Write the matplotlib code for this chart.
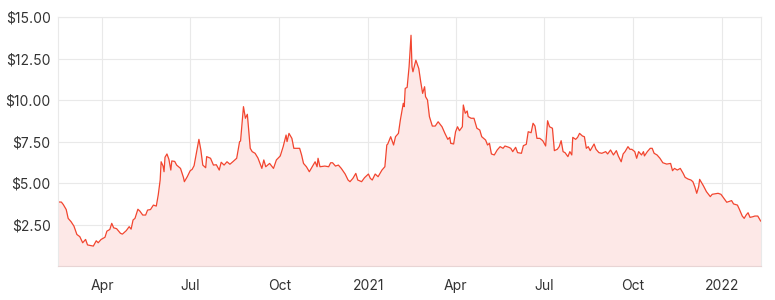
import matplotlib
matplotlib.use("Agg")
import matplotlib.pyplot as plt
import pandas as pd

# share price
dates = [
    "2020-02-15", "2020-02-19", "2020-02-21", "2020-02-24", "2020-02-26", "2020-02-29",
    "2020-03-03", "2020-03-06", "2020-03-09", "2020-03-12", "2020-03-15", "2020-03-17",
    "2020-03-23", "2020-03-26", "2020-03-28", "2020-03-31", "2020-04-04", "2020-04-06",
    "2020-04-09", "2020-04-11", "2020-04-13", "2020-04-16", "2020-04-20", "2020-04-22",
    "2020-04-26", "2020-04-29", "2020-05-01", "2020-05-03", "2020-05-05", "2020-05-08",
    "2020-05-10", "2020-05-13", "2020-05-16", "2020-05-18", "2020-05-21", "2020-05-24",
    "2020-05-27", "2020-05-29", "2020-05-31", "2020-06-01", "2020-06-03", "2020-06-04",
    "2020-06-05", "2020-06-07", "2020-06-09", "2020-06-11", "2020-06-12", "2020-06-15",
    "2020-06-17", "2020-06-21", "2020-06-24", "2020-06-25", "2020-06-28", "2020-07-01",
    "2020-07-03", "2020-07-05", "2020-07-08", "2020-07-10", "2020-07-12", "2020-07-14",
    "2020-07-17", "2020-07-18", "2020-07-22", "2020-07-25", "2020-07-28", "2020-07-31",
    "2020-08-02", "2020-08-05", "2020-08-08", "2020-08-11", "2020-08-14", "2020-08-18",
    "2020-08-21", "2020-08-22", "2020-08-25", "2020-08-27", "2020-08-29", "2020-09-01",
    "2020-09-03", "2020-09-06", "2020-09-09", "2020-09-13", "2020-09-15", "2020-09-17",
    "2020-09-21", "2020-09-25", "2020-09-28", "2020-10-02", "2020-10-05", "2020-10-08",
    "2020-10-09", "2020-10-11", "2020-10-14", "2020-10-16", "2020-10-19", "2020-10-22",
    "2020-10-24", "2020-10-26", "2020-10-29", "2020-11-01", "2020-11-03", "2020-11-07",
    "2020-11-09", "2020-11-10", "2020-11-12", "2020-11-17", "2020-11-21", "2020-11-23",
    "2020-11-25", "2020-11-28", "2020-12-01", "2020-12-04", "2020-12-08", "2020-12-11",
    "2020-12-13", "2020-12-16", "2020-12-19", "2020-12-21", "2020-12-25", "2020-12-28",
    "2021-01-01", "2021-01-03", "2021-01-05", "2021-01-08", "2021-01-11", "2021-01-15",
    "2021-01-18", "2021-01-20", "2021-01-21", "2021-01-24", "2021-01-27", "2021-01-29",
    "2021-02-01", "2021-02-03", "2021-02-06", "2021-02-07", "2021-02-08", "2021-02-10",
    "2021-02-12", "2021-02-14", "2021-02-15", "2021-02-16", "2021-02-19", "2021-02-22",
    "2021-02-24", "2021-02-26", "2021-02-28", "2021-03-01", "2021-03-03", "2021-03-05",
    "2021-03-08", "2021-03-11", "2021-03-14", "2021-03-18", "2021-03-21", "2021-03-24",
    "2021-03-26", "2021-03-27", "2021-03-30", "2021-04-01", "2021-04-03", "2021-04-05",
    "2021-04-08", "2021-04-09", "2021-04-11", "2021-04-13", "2021-04-14", "2021-04-17",
    "2021-04-20", "2021-04-23", "2021-04-26", "2021-04-28", "2021-05-02", "2021-05-04",
    "2021-05-06", "2021-05-08", "2021-05-11", "2021-05-14", "2021-05-17", "2021-05-20",
    "2021-05-22", "2021-05-26", "2021-05-28", "2021-05-30", "2021-06-02", "2021-06-04",
    "2021-06-08", "2021-06-10", "2021-06-13", "2021-06-15", "2021-06-18", "2021-06-20",
    "2021-06-22", "2021-06-24", "2021-06-27", "2021-06-30", "2021-07-03", "2021-07-05",
    "2021-07-07", "2021-07-10", "2021-07-12", "2021-07-15", "2021-07-17", "2021-07-19",
    "2021-07-21", "2021-07-23", "2021-07-26", "2021-07-28", "2021-07-30", "2021-07-31",
    "2021-08-03", "2021-08-05", "2021-08-07", "2021-08-10", "2021-08-12", "2021-08-14",
    "2021-08-16", "2021-08-18", "2021-08-22", "2021-08-24", "2021-08-27", "2021-08-30",
    "2021-09-03", "2021-09-05", "2021-09-08", "2021-09-11", "2021-09-14", "2021-09-16",
    "2021-09-19", "2021-09-21", "2021-09-23", "2021-09-26", "2021-09-28", "2021-09-30",
    "2021-10-03", "2021-10-05", "2021-10-07", "2021-10-10", "2021-10-12", "2021-10-13",
    "2021-10-16", "2021-10-19", "2021-10-21", "2021-10-23", "2021-10-26", "2021-10-29",
    "2021-11-01", "2021-11-05", "2021-11-09", "2021-11-11", "2021-11-13", "2021-11-16",
    "2021-11-19", "2021-11-22", "2021-11-24", "2021-11-27", "2021-11-30", "2021-12-02",
    "2021-12-04", "2021-12-06", "2021-12-08", "2021-12-09", "2021-12-11", "2021-12-13",
    "2021-12-16", "2021-12-20", "2021-12-22", "2021-12-24", "2021-12-28", "2021-12-31",
    "2022-01-03", "2022-01-06", "2022-01-08", "2022-01-11", "2022-01-13", "2022-01-17",
    "2022-01-19", "2022-01-22", "2022-01-24", "2022-01-26", "2022-01-28", "2022-01-30",
    "2022-02-02", "2022-02-04", "2022-02-07", "2022-02-09", "2022-02-10",
]
prices = [
    3.86, 3.85, 3.70, 3.40, 2.87, 2.67,
    2.40, 1.90, 1.77, 1.40, 1.60, 1.27,
    1.20, 1.52, 1.40, 1.60, 1.73, 2.10,
    2.20, 2.57, 2.30, 2.25, 1.97, 1.92,
    2.13, 2.37, 2.22, 2.77, 2.87, 3.42,
    3.31, 3.07, 3.07, 3.37, 3.40, 3.67,
    3.61, 4.28, 5.18, 6.28, 6.02, 5.68,
    6.55, 6.75, 6.43, 5.78, 6.33, 6.30,
    6.08, 5.88, 5.34, 5.08, 5.38, 5.74,
    5.82, 6.04, 6.99, 7.63, 6.99, 6.08,
    5.92, 6.59, 6.49, 6.08, 6.10, 5.78,
    6.25, 6.08, 6.28, 6.13, 6.28, 6.49,
    7.49, 7.53, 9.60, 8.90, 9.14, 7.09,
    6.89, 6.79, 6.50, 5.88, 6.39, 5.98,
    6.18, 5.88, 6.39, 6.63, 7.19, 7.89,
    7.49, 7.99, 7.69, 7.09, 7.09, 7.09,
    6.69, 6.18, 5.98, 5.68, 5.88, 6.28,
    5.98, 6.49, 5.98, 6.02, 5.98, 6.22,
    6.22, 6.02, 6.08, 5.88, 5.54, 5.18,
    5.08, 5.28, 5.58, 5.18, 5.08, 5.32,
    5.54, 5.28, 5.18, 5.54, 5.38, 5.78,
    5.98, 7.29, 7.35, 7.79, 7.29, 7.79,
    7.99, 8.80, 9.80, 9.60, 10.70, 10.76,
    12.00, 13.90, 12.00, 11.70, 12.40, 11.90,
    11.10, 10.40, 10.80, 10.20, 10.00, 9.00,
    8.43, 8.43, 8.69, 8.39, 7.99, 7.63,
    7.75, 7.39, 7.35, 8.09, 8.39, 8.15,
    8.39, 9.70, 9.20, 9.34, 9.00, 8.90,
    8.90, 8.30, 8.19, 7.79, 7.59, 7.29,
    7.39, 6.75, 6.69, 6.99, 7.19, 7.09,
    7.23, 7.15, 7.09, 6.89, 7.15, 6.83,
    6.79, 7.25, 7.33, 8.09, 8.03, 8.60,
    8.43, 7.69, 7.69, 7.55, 7.23, 8.75,
    8.39, 8.30, 6.95, 7.03, 7.19, 7.55,
    6.89, 6.83, 6.59, 6.89, 6.69, 7.75,
    7.63, 7.75, 7.99, 7.83, 7.79, 7.09,
    7.19, 6.95, 7.35, 7.03, 6.83, 6.79,
    6.89, 6.75, 6.99, 6.69, 6.95, 6.63,
    6.28, 6.75, 6.89, 7.19, 7.03, 7.03,
    6.89, 6.49, 6.89, 6.69, 6.89, 6.63,
    6.89, 7.09, 7.09, 6.79, 6.69, 6.49,
    6.22, 6.14, 6.18, 5.74, 5.88, 5.78,
    5.88, 5.58, 5.34, 5.24, 5.18, 5.08,
    4.78, 4.38, 4.78, 5.22, 5.02, 4.82,
    4.48, 4.18, 4.32, 4.34, 4.38, 4.32,
    4.08, 3.84, 3.88, 3.94, 3.74, 3.67,
    3.42, 3.01, 2.87, 3.07, 3.21, 2.93,
    2.97, 3.01, 3.01, 2.81, 2.71,
]

tick_dates = ["2020-04-01", "2020-07-01", "2020-10-01", "2021-01-01",
              "2021-04-01", "2021-07-01", "2021-10-01", "2022-01-01"]
tick_labels = ["Apr", "Jul", "Oct", "2021", "Apr", "Jul", "Oct", "2022"]
y_ticks = [2.5, 5.0, 7.5, 10.0, 12.5, 15.0]

plt.rcParams['font.family'] = ['Inter', 'DejaVu Sans']

x = pd.to_datetime(dates)

fig = plt.figure(figsize=(7.75, 3.0), dpi=100)
ax = fig.add_axes([0.0742, 0.1133, 0.9073, 0.83])

ax.fill_between(x, prices, 0, color='#fde8e7', linewidth=0)
ax.plot(x, prices, color='#f2452f', linewidth=0.9)

ax.set_xlim(x[0], x[-1])
ax.set_ylim(0, 15)
ax.set_xticks(pd.to_datetime(tick_dates))
ax.set_xticklabels(tick_labels)
ax.set_yticks(y_ticks)
ax.set_yticklabels(['${:.2f}'.format(v) for v in y_ticks])

ax.grid(True, color='#e9e9e9', linewidth=0.8)
ax.set_axisbelow(True)
for side in ['left', 'right', 'top']:
    ax.spines[side].set_color('#e9e9e9')
    ax.spines[side].set_linewidth(0.8)
ax.spines['bottom'].set_color('#e8d4d4')
ax.spines['bottom'].set_linewidth(0.8)

ax.tick_params(axis='both', length=0, labelsize=10, labelcolor='#333333')
ax.tick_params(axis='x', pad=9)
ax.tick_params(axis='y', pad=5)

fig.savefig('out.png', dpi=100)
